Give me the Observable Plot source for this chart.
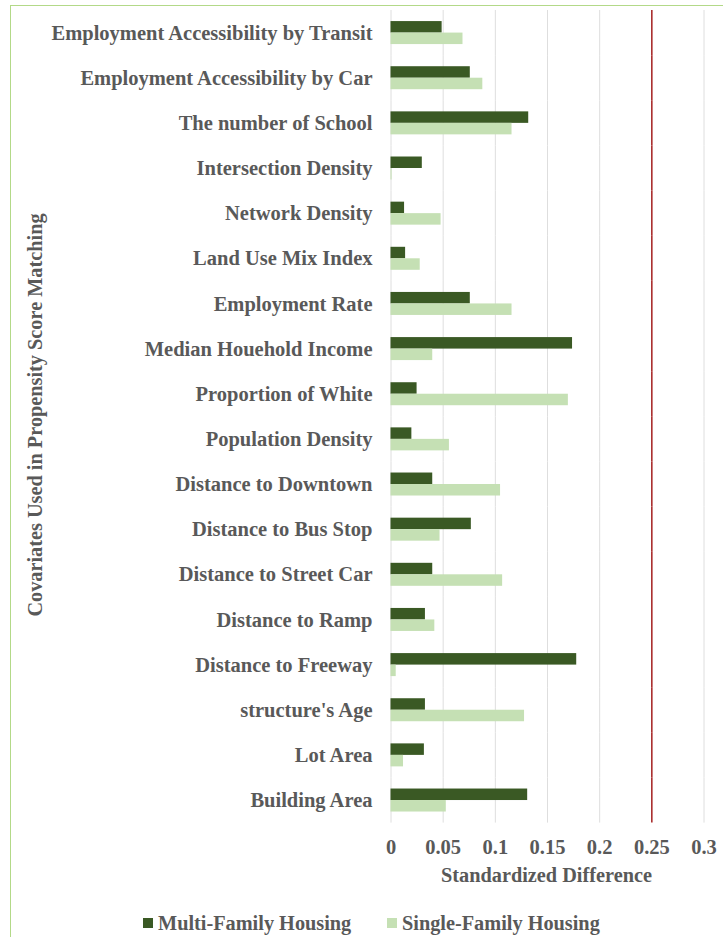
<!DOCTYPE html>
<html>
<head>
<meta charset="utf-8">
<script src="https://cdn.jsdelivr.net/npm/d3@7"></script>
<script src="https://cdn.jsdelivr.net/npm/@observablehq/plot@0.6"></script>
<style>
  html, body { margin: 0; padding: 0; background: #fff; }
  #wrap { position: relative; width: 723px; height: 937px; overflow: hidden;
          font-family: "Liberation Serif", "Times New Roman", serif; font-weight: bold; color: #595959; }
  #frame { position: absolute; left: 10px; top: 5px; width: 800px; height: 1000px;
           border-left: 1.5px solid #b3d988; border-top: 1.5px solid #b3d988; box-sizing: border-box; }
  #chart { position: absolute; left: 0; top: 0; }
  .t { position: absolute; font-size: 20.3px; line-height: 20px; white-space: nowrap; }
  .sw { position: absolute; width: 10px; height: 10px; }
</style>
</head>
<body>
<div id="wrap">
  <div id="frame"></div>
  <div id="chart"></div>
</div>
<script>
const categories = [
  "Employment Accessibility by Transit",
  "Employment Accessibility by Car",
  "The number of School",
  "Intersection Density",
  "Network Density",
  "Land Use Mix Index",
  "Employment Rate",
  "Median Houehold Income",
  "Proportion of White",
  "Population Density",
  "Distance to Downtown",
  "Distance to Bus Stop",
  "Distance to Street Car",
  "Distance to Ramp",
  "Distance to Freeway",
  "structure's Age",
  "Lot Area",
  "Building Area"
];
const seriesNames = ["Multi-Family Housing", "Single-Family Housing"];
const multiFamily = [0.049, 0.076, 0.132, 0.030, 0.013, 0.014, 0.076, 0.174, 0.025, 0.020, 0.040, 0.077, 0.040, 0.033, 0.178, 0.033, 0.032, 0.131];
const singleFamily = [0.069, 0.088, 0.116, 0.001, 0.048, 0.028, 0.116, 0.040, 0.170, 0.056, 0.105, 0.047, 0.107, 0.042, 0.005, 0.128, 0.012, 0.053];
const xTicks = [0, 0.05, 0.1, 0.15, 0.2, 0.25, 0.3];
const threshold = 0.25;
const xTitle = "Standardized Difference";
const yTitle = "Covariates Used in Propensity Score Matching";
const colors = ["#3a5924", "#c5e0b4"];

const rows = [];
categories.forEach((c, i) => {
  rows.push({category: c, series: seriesNames[0], value: multiFamily[i]});
  rows.push({category: c, series: seriesNames[1], value: singleFamily[i]});
});

const W = 723, H = 900;
const plot = Plot.plot({
  width: W,
  height: H,
  marginLeft: 390.5,
  marginRight: 19.5,
  marginTop: 10,
  marginBottom: H - 822.6,
  style: {fontFamily: "'Liberation Serif', 'Times New Roman', serif", fontWeight: "bold", fontSize: "20.5px", color: "#595959", background: "transparent", overflow: "visible"},
  facet: {data: rows, y: "category"},
  fy: {domain: categories, padding: 0, round: false, axis: "left", tickSize: 0, tickPadding: 18.5, label: null},
  y: {domain: seriesNames, axis: null, paddingInner: 0, paddingOuter: 0.963, round: false},
  x: {domain: [0, 0.3], ticks: xTicks, tickFormat: d => String(d), tickSize: 0, tickPadding: 16, label: null},
  color: {domain: seriesNames, range: colors},
  marks: [
    Plot.ruleX(xTicks.filter(t => t !== threshold), {stroke: "#dedede", strokeWidth: 1}),
    Plot.barX(rows, {x: "value", y: "series", fill: "series"}),
    Plot.ruleX([threshold], {stroke: "#a41f1f", strokeWidth: 1.5})
  ]
});
document.getElementById("chart").appendChild(plot);

const wrap = document.getElementById("wrap");
function addText(txt, left, top, extra) {
  const d = document.createElement("div");
  d.className = "t";
  d.textContent = txt;
  d.style.left = left + "px";
  d.style.top = top + "px";
  if (extra) Object.assign(d.style, extra);
  wrap.appendChild(d);
  return d;
}
// x title
addText(xTitle, 546.5, 865, {transform: "translateX(-50%)"});
// y title
addText(yTitle, 35, 415, {transform: "translate(-50%, -50%) rotate(-90deg)"});
// legend
const legendPos = [143, 387];
seriesNames.forEach((s, i) => {
  const sw = document.createElement("div");
  sw.className = "sw";
  sw.style.left = legendPos[i] + "px";
  sw.style.top = "918px";
  sw.style.background = colors[i];
  wrap.appendChild(sw);
  addText(s, legendPos[i] + 15, 912.5);
});
</script>
</body>
</html>
